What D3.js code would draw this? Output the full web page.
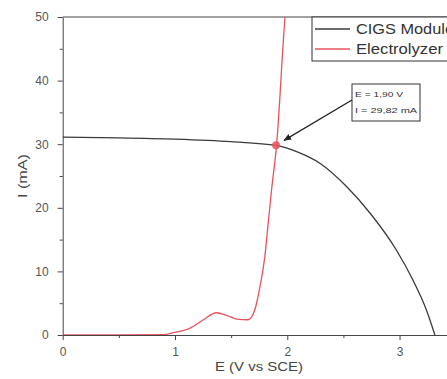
<!DOCTYPE html>
<html>
<head>
<meta charset="utf-8">
<script src="https://cdn.jsdelivr.net/npm/d3@7"></script>
<style>
  body { margin: 0; background: #fff; overflow: hidden; }
  svg { display: block; font-family: "Liberation Sans", Arial, sans-serif; }
  .axis path, .axis line { stroke: #444; }
  .axis text { fill: #555; font-size: 12px; }
</style>
</head>
<body>
<svg id="chart" width="447" height="379"></svg>
<script>
// CIGS module I-V curve
const cigsE = [0, 0.5, 1.0, 1.5, 1.9, 2.1, 2.29, 2.53, 2.74, 2.97, 3.12, 3.24, 3.315];
const cigsI = [31.1, 31.0, 30.8, 30.4, 29.8, 28.7, 27.0, 23.3, 19.1, 13.4, 8.6, 3.9, 0];

// electrolyzer polarisation curve
const elecE = [0, 0.5, 0.9, 0.985, 1.13, 1.25, 1.37, 1.46, 1.55, 1.65, 1.71, 1.757, 1.80, 1.83, 1.86, 1.905, 1.98, 2.0];
const elecI = [0, 0, 0.05, 0.36, 1.05, 2.36, 3.5, 3.1, 2.5, 2.4, 3.9, 7.6, 12.3, 17.6, 22.8, 29.9, 50, 54];

// operating point
const opE = 1.90, opI = 29.82;
const opLabels = ["E = 1,90 V", "I = 29,82 mA"];

const xTicks = [0, 1, 2, 3];
const yTicks = [0, 10, 20, 30, 40, 50];
const seriesNames = ["CIGS Module", "Electrolyzer"];
const seriesColors = ["#3a3a3a", "#e8525d"];

const svg = d3.select("#chart");
const mLeft = 62.7, mTop = 17, mBottom = 335, mRight = 455.7;

const x = d3.scaleLinear().domain([0, 3.5]).range([mLeft, mRight]);
const y = d3.scaleLinear().domain([0, 50]).range([mBottom, mTop]);

svg.append("clipPath").attr("id", "plotclip")
  .append("rect")
  .attr("x", mLeft).attr("y", mTop)
  .attr("width", mRight - mLeft).attr("height", mBottom - mTop);

// minor ticks first
svg.append("g").attr("class", "axis")
  .attr("transform", `translate(0,${mBottom})`)
  .call(d3.axisBottom(x).tickValues([0.5, 1.5, 2.5]).tickSize(3).tickFormat(""))
  .select(".domain").remove();
svg.append("g").attr("class", "axis")
  .attr("transform", `translate(${mLeft},0)`)
  .call(d3.axisLeft(y).tickValues([5, 15, 25, 35, 45]).tickSize(3).tickFormat(""))
  .select(".domain").remove();

svg.append("g").attr("class", "axis")
  .attr("transform", `translate(0,${mBottom})`)
  .call(d3.axisBottom(x).tickValues(xTicks).tickSize(5).tickSizeOuter(0).tickPadding(7).tickFormat(d3.format("d")));

svg.append("g").attr("class", "axis")
  .attr("transform", `translate(${mLeft},0)`)
  .call(d3.axisLeft(y).tickValues(yTicks).tickSize(5).tickSizeOuter(0).tickPadding(9).tickFormat(d3.format("d")));

// top frame line
svg.append("line")
  .attr("x1", mLeft).attr("x2", mRight)
  .attr("y1", y(50)).attr("y2", y(50))
  .attr("stroke", "#444");

// axis titles
svg.append("text")
  .attr("x", 259).attr("y", 371)
  .attr("text-anchor", "middle")
  .attr("font-size", 13).attr("fill", "#444")
  .attr("textLength", 88).attr("lengthAdjust", "spacingAndGlyphs")
  .text("E (V vs SCE)");

svg.append("text")
  .attr("transform", `translate(27,${y(25)}) rotate(-90)`)
  .attr("text-anchor", "middle")
  .attr("font-size", 13).attr("fill", "#444")
  .attr("textLength", 44).attr("lengthAdjust", "spacingAndGlyphs")
  .text("I (mA)");

const line = d3.line()
  .x(d => x(d[0]))
  .y(d => y(d[1]))
  .curve(d3.curveMonotoneX);

const plot = svg.append("g").attr("clip-path", "url(#plotclip)");

plot.append("path")
  .datum(cigsE.map((e, i) => [e, cigsI[i]]))
  .attr("fill", "none")
  .attr("stroke", seriesColors[0])
  .attr("stroke-width", 1.3)
  .attr("d", line);

plot.append("path")
  .datum(elecE.map((e, i) => [e, elecI[i]]))
  .attr("fill", "none")
  .attr("stroke", seriesColors[1])
  .attr("stroke-width", 1.3)
  .attr("d", line);

// operating point marker
svg.append("circle")
  .attr("cx", x(opE)).attr("cy", y(opI))
  .attr("r", 4)
  .attr("fill", "#e8525d")
  .attr("opacity", 0.85);

// annotation box
const boxX = 352, boxY = 84, boxW = 68, boxH = 37;
svg.append("rect")
  .attr("x", boxX).attr("y", boxY)
  .attr("width", boxW).attr("height", boxH)
  .attr("fill", "#fff").attr("stroke", "#333").attr("stroke-width", 1);

svg.selectAll(".oplabel")
  .data(opLabels)
  .join("text")
  .attr("class", "oplabel")
  .attr("x", boxX + 3)
  .attr("y", (d, i) => boxY + 13 + i * 16)
  .attr("font-size", 8)
  .attr("fill", "#333")
  .attr("textLength", (d, i) => i === 0 ? 48 : 62)
  .attr("lengthAdjust", "spacingAndGlyphs")
  .text(d => d);

svg.append("defs").append("marker")
  .attr("id", "arrowhead")
  .attr("viewBox", "0 0 10 10")
  .attr("refX", 9).attr("refY", 5)
  .attr("markerWidth", 6).attr("markerHeight", 6)
  .attr("orient", "auto")
  .append("path")
  .attr("d", "M0,1 L10,5 L0,9 z")
  .attr("fill", "#222");

svg.append("line")
  .attr("x1", boxX).attr("y1", 100)
  .attr("x2", x(opE) + 8).attr("y2", y(opI) - 5)
  .attr("stroke", "#222").attr("stroke-width", 1.3)
  .attr("marker-end", "url(#arrowhead)");

// legend
const legX = 312, legY = 17;
svg.append("rect")
  .attr("x", legX).attr("y", legY)
  .attr("width", 160).attr("height", 44)
  .attr("fill", "#fff").attr("stroke", "#333").attr("stroke-width", 1);

const leg = svg.selectAll(".leg")
  .data(seriesNames)
  .join("g")
  .attr("class", "leg")
  .attr("transform", (d, i) => `translate(${legX},${legY + 12 + i * 20})`);

leg.append("line")
  .attr("x1", 3).attr("x2", 38)
  .attr("stroke", (d, i) => seriesColors[i])
  .attr("stroke-width", 1.3);

leg.append("text")
  .attr("x", 44).attr("y", 5)
  .attr("font-size", 14)
  .attr("fill", "#333")
  .attr("textLength", (d, i) => i === 0 ? 98 : 87)
  .attr("lengthAdjust", "spacingAndGlyphs")
  .text(d => d);
</script>
</body>
</html>
